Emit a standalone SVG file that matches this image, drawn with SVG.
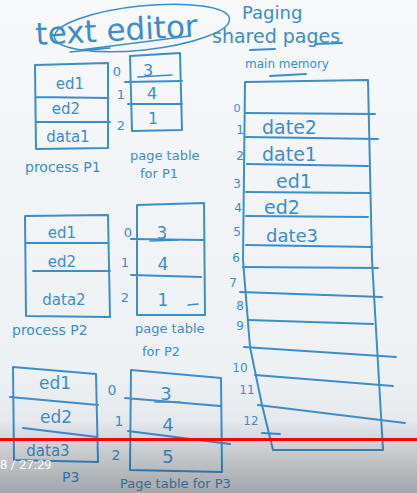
<svg xmlns="http://www.w3.org/2000/svg" width="417" height="493" viewBox="0 0 417 493">
<defs>
<linearGradient id="bg" x1="0" y1="0" x2="0" y2="1">
<stop offset="0" stop-color="#f6f8fa"/>
<stop offset="0.75" stop-color="#eef1f4"/>
<stop offset="1" stop-color="#d9dde2"/>
</linearGradient>
<linearGradient id="shade" x1="0" y1="0" x2="0" y2="1">
<stop offset="0" stop-color="#000" stop-opacity="0"/>
<stop offset="1" stop-color="#000" stop-opacity="0.25"/>
</linearGradient>
</defs>
<style>
.ink{fill:none;stroke:#3d8dc9;stroke-width:2;stroke-linecap:round;stroke-linejoin:round}
.thin{fill:none;stroke:#3d8dc9;stroke-width:1.5;stroke-linecap:round}
.t{fill:#3d8dc9;font-family:"DejaVu Sans",sans-serif}
.c{text-anchor:middle}
</style>
<rect width="417" height="493" fill="url(#bg)"/>

<g id="title">
<text class="t" x="36" y="45" font-size="31" transform="rotate(-3 36 45)">text editor</text>
<ellipse class="thin" cx="142" cy="28" rx="88" ry="22" transform="rotate(-6 142 28)"/>
<path class="thin" d="M70 52 L110 48 M80 50 L190 36"/>
<text class="t" x="242" y="19" font-size="18">Paging</text>
<text class="t" x="212" y="43" font-size="19">shared pages</text>
<path class="ink" d="M250 50 L275 49 M315 44 L342 43"/>
<text class="t" x="245" y="68" font-size="12">main memory</text>
<path class="ink" d="M270 76 L306 74"/>
</g>

<g id="process-p1">
<path class="ink" d="M35 65 L108 63 L108 148 L36 149 Z M36 97 L108 98 M36 122 L110 122"/>
<text class="t c" x="70" y="89" font-size="15">ed1</text>
<text class="t c" x="66" y="114" font-size="15">ed2</text>
<text class="t c" x="68" y="142" font-size="15">data1</text>
<text class="t" x="25" y="172" font-size="14">process P1</text>
</g>

<g id="pagetable-p1">
<path class="ink" d="M130 56 L180 53 L182 130 L132 131 Z M125 82 L182 81 M128 104 L182 104"/>
<text class="t c" x="117" y="76" font-size="13">0</text>
<text class="t c" x="121" y="99" font-size="13">1</text>
<text class="t c" x="121" y="130" font-size="13">2</text>
<text class="t c" x="148" y="76" font-size="16">3</text>
<path class="thin" d="M138 77 L172 75"/>
<text class="t c" x="152" y="99" font-size="16">4</text>
<text class="t c" x="153" y="124" font-size="16">1</text>
<text class="t" x="130" y="160" font-size="13">page table</text>
<text class="t" x="140" y="178" font-size="13">for P1</text>
</g>

<g id="main-memory">
<path class="ink" d="M245 82 L368 80 L372 260 L383 450 L273 450 L262 405 L250 347 L243 260 Z"/>
<path class="ink" d="M245 113 L375 114 M246 137 L378 139 M247 164 L368 166 M246 192 L370 193 M246 216 L368 217 M246 245 L372 247 M243 267 L378 268 M240 292 L382 297 M248 320 L373 324 M244 347 L396 357 M255 375 L393 386 M258 405 L405 423 M262 433 L280 434"/>
<text class="t c" x="237" y="112" font-size="11">0</text>
<text class="t c" x="240" y="134" font-size="12">1</text>
<text class="t c" x="240" y="160" font-size="12">2</text>
<text class="t c" x="237" y="188" font-size="12">3</text>
<text class="t c" x="238" y="212" font-size="12">4</text>
<text class="t c" x="237" y="236" font-size="12">5</text>
<text class="t c" x="236" y="262" font-size="12">6</text>
<text class="t c" x="233" y="287" font-size="12">7</text>
<text class="t c" x="240" y="310" font-size="12">8</text>
<text class="t c" x="240" y="330" font-size="12">9</text>
<text class="t c" x="240" y="372" font-size="12">10</text>
<text class="t c" x="247" y="394" font-size="12">11</text>
<text class="t c" x="251" y="425" font-size="12">12</text>
<text class="t" x="262" y="134" font-size="19">date2</text>
<text class="t" x="262" y="161" font-size="19">date1</text>
<text class="t" x="276" y="188" font-size="19">ed1</text>
<text class="t" x="264" y="214" font-size="19">ed2</text>
<text class="t" x="266" y="242" font-size="18">date3</text>
</g>

<g id="process-p2">
<path class="ink" d="M25 216 L108 215 L110 317 L26 316 Z M26 243 L108 243 M33 271 L110 271"/>
<text class="t c" x="62" y="238" font-size="15">ed1</text>
<text class="t c" x="62" y="267" font-size="15">ed2</text>
<text class="t c" x="64" y="305" font-size="15">data2</text>
<text class="t" x="12" y="335" font-size="14">process P2</text>
</g>

<g id="pagetable-p2">
<path class="ink" d="M137 205 L204 203 L205 315 L137 315 Z M131 239 L203 240 M131 275 L201 277"/>
<text class="t c" x="128" y="237" font-size="13">0</text>
<text class="t c" x="125" y="267" font-size="13">1</text>
<text class="t c" x="125" y="302" font-size="13">2</text>
<text class="t c" x="162" y="239" font-size="17">3</text>
<path class="thin" d="M150 241 L178 240"/>
<text class="t c" x="163" y="270" font-size="17">4</text>
<text class="t c" x="163" y="306" font-size="17">1</text>
<path class="thin" d="M188 305 L198 304"/>
<text class="t" x="135" y="333" font-size="13">page table</text>
<text class="t" x="142" y="356" font-size="13">for P2</text>
</g>

<g id="process-p3">
<path class="ink" d="M13 367 L96 374 L98 462 L14 460 Z M10 397 L98 405 M23 428 L97 437"/>
<text class="t c" x="55" y="389" font-size="17">ed1</text>
<text class="t c" x="56" y="423" font-size="17">ed2</text>
<text class="t c" x="48" y="456" font-size="15">data3</text>
<text class="t" x="62" y="482" font-size="14">P3</text>
</g>

<g id="pagetable-p3">
<path class="ink" d="M131 370 L221 378 L222 472 L130 470 Z M125 398 L220 406 M128 431 L230 444"/>
<text class="t c" x="112" y="395" font-size="14">0</text>
<text class="t c" x="119" y="426" font-size="14">1</text>
<text class="t c" x="116" y="460" font-size="14">2</text>
<text class="t c" x="166" y="400" font-size="18">3</text>
<path class="thin" d="M155 402 L180 402"/>
<text class="t c" x="168" y="431" font-size="18">4</text>
<text class="t c" x="168" y="463" font-size="18">5</text>
<text class="t" x="120" y="488" font-size="13">Page table for P3</text>
</g>

<g id="player-overlay">
<rect x="0" y="420" width="417" height="73" fill="url(#shade)"/>
<rect x="0" y="438" width="417" height="3" fill="#ff0000"/>
<text x="0" y="469" font-size="13" fill="#ffffff" font-family="Roboto, sans-serif">8 / 27:29</text>
</g>
</svg>
